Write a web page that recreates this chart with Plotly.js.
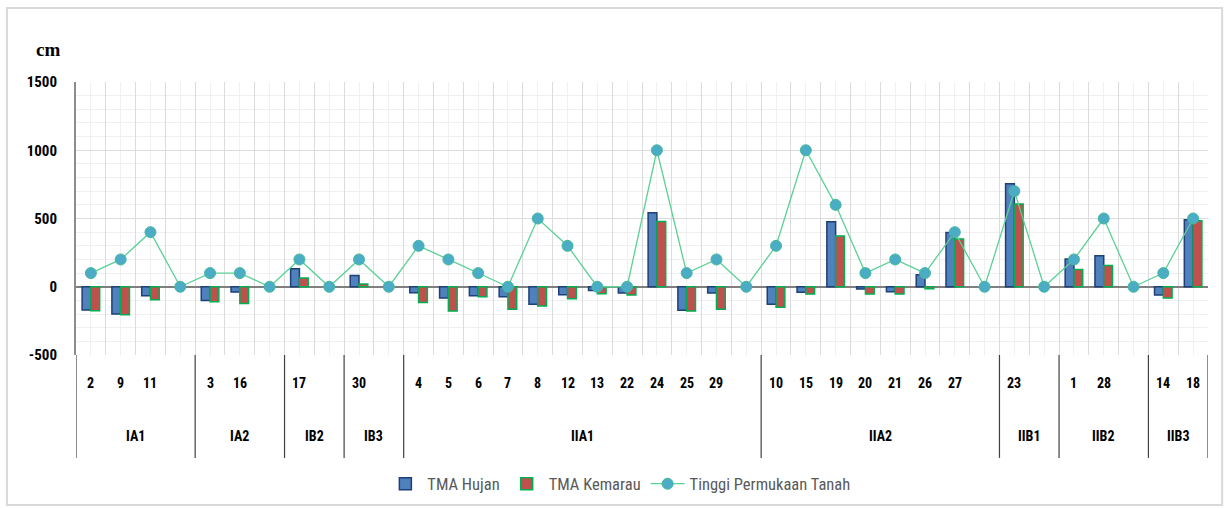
<!DOCTYPE html>
<html>
<head>
<meta charset="utf-8">
<script src="https://cdn.plot.ly/plotly-3.0.1.min.js"></script>
<style>
  html, body { margin: 0; padding: 0; background: #fff; }
  #chart { width: 1225px; height: 508px; }
</style>
</head>
<body>
<div id="chart"></div>
<script>
// ---- data ----
const groupNames = ['IA1','IA1','IA1','IA1','IA2','IA2','IA2','IB2','IB2','IB3','IB3',
  'IIA1','IIA1','IIA1','IIA1','IIA1','IIA1','IIA1','IIA1','IIA1','IIA1','IIA1','IIA1',
  'IIA2','IIA2','IIA2','IIA2','IIA2','IIA2','IIA2','IIA2',
  'IIB1','IIB1','IIB2','IIB2','IIB2','IIB3','IIB3'];
const wellLabels = ['2','9','11','','3','16','','17','','30','',
  '4','5','6','7','8','12','13','22','24','25','29','',
  '10','15','19','20','21','26','27','',
  '23','','1','28','','14','18'];
const tmaHujan = [-170,-200,-66,null,-100,-39,null,132,null,83,null,
  -44,-83,-66,-73,-129,-59,-27,-46,542,-173,-46,null,
  -129,-41,476,-17,-37,88,398,null,
  754,null,203,227,null,-61,490];
const tmaKemarau = [-176,-205,-95,null,-110,-122,null,64,null,20,null,
  -115,-178,-73,-164,-141,-88,-51,-61,478,-178,-164,null,
  -151,-54,371,-54,-54,-15,349,null,
  607,null,127,156,null,-83,483];
const tinggiTanah = [100,200,400,0,100,100,0,200,0,200,0,
  300,200,100,0,500,300,0,0,1000,100,200,0,
  300,1000,600,100,200,100,400,0,
  700,0,200,500,0,100,500];
const yTicks = [-500, 0, 500, 1000, 1500];

// ---- build ----
const idx = wellLabels.map((_, i) => i);
const labFont = {family: '"Liberation Sans Narrow", "Roboto Condensed", "Liberation Sans", Arial, sans-serif', size: 14, color: '#000'};

const traces = [
  {type: 'bar', name: 'TMA Hujan', x: idx, y: tmaHujan,
   marker: {color: '#4F81BD', line: {color: '#1F3F77', width: 1.5}}},
  {type: 'bar', name: 'TMA Kemarau', x: idx, y: tmaKemarau,
   marker: {color: '#C0504D', line: {color: '#00B050', width: 1.5}}},
  {type: 'scatter', mode: 'lines+markers', name: 'Tinggi Permukaan Tanah', x: idx, y: tinggiTanah,
   line: {color: '#5BD196', width: 1.3},
   marker: {color: '#4BACC6', size: 11, line: {color: '#46B99A', width: 1}}}
];

const annotations = [];
const shapes = [];
const yLab1 = -0.1026, yLab2 = -0.2967, yBoxBottom = -0.377;
idx.forEach(i => {
  if (wellLabels[i] !== '') {
    annotations.push({x: i, y: yLab1, xref: 'x', yref: 'paper', text: '<b>' + wellLabels[i] + '</b>',
      showarrow: false, font: labFont, xanchor: 'center', yanchor: 'middle'});
  }
});
// groups
let start = 0;
for (let i = 1; i <= groupNames.length; i++) {
  if (i === groupNames.length || groupNames[i] !== groupNames[i - 1]) {
    const mid = (start - 0.5 + i - 0.5) / 2;
    annotations.push({x: mid, y: yLab2, xref: 'x', yref: 'paper', text: '<b>' + groupNames[start] + '</b>',
      showarrow: false, font: labFont, xanchor: 'center', yanchor: 'middle'});
    shapes.push({type: 'line', xref: 'x', yref: 'paper', x0: i - 0.5, x1: i - 0.5, y0: 0, y1: yBoxBottom,
      line: {color: i === groupNames.length ? '#8c8c8c' : '#404040', width: i === groupNames.length ? 2 : 1.2}});
    start = i;
  }
}
// left box line
shapes.push({type: 'line', xref: 'x', yref: 'paper', x0: -0.5, x1: -0.5, y0: 0, y1: yBoxBottom,
  line: {color: '#8c8c8c', width: 2}});
// outer chart border
shapes.push({type: 'rect', xref: 'paper', yref: 'paper', x0: -0.0610, x1: 1.0125, y0: -0.549, y1: 1.271,
  line: {color: '#d9d9d9', width: 2}, layer: 'below'});

annotations.push({x: -0.012, y: 1.12, xref: 'paper', yref: 'paper', text: '<b>cm</b>', showarrow: false,
  font: {family: '"Liberation Serif", "Times New Roman", serif', size: 19, color: '#000'}, xanchor: 'right', yanchor: 'middle'});

const layout = {
  width: 1225, height: 508,
  margin: {l: 76, r: 17, t: 82, b: 153, autoexpand: false},
  paper_bgcolor: '#fff', plot_bgcolor: '#fff',
  barmode: 'group', bargap: 0.41, bargroupgap: 0,
  showlegend: true,
  legend: {orientation: 'h', x: 0.48, xanchor: 'center', y: -0.4725, yanchor: 'middle',
    font: {family: '"Liberation Sans Narrow", "Roboto Condensed", "Open Sans", sans-serif', size: 16.5, color: '#595959'},
    itemwidth: 34, traceorder: 'normal'},
  xaxis: {range: [-0.5, idx.length - 0.5], tickmode: 'linear', tick0: -0.5, dtick: 1,
    showticklabels: false, ticks: '', showgrid: true, gridcolor: '#dcdcdc', gridwidth: 1,
    minor: {tickmode: 'linear', tick0: 0, dtick: 1, showgrid: true, gridcolor: '#f0f0f0', gridwidth: 1},
    zeroline: false, showline: false, fixedrange: true},
  yaxis: {range: [-500, 1500], tickvals: yTicks, ticktext: yTicks.map(v => '<b>' + v + '</b>'),
    showgrid: true, gridcolor: '#dcdcdc', gridwidth: 1.3,
    minor: {dtick: 100, showgrid: true, gridcolor: '#f0f0f0', gridwidth: 1},
    zeroline: true, zerolinecolor: '#7f7f7f', zerolinewidth: 2,
    showline: true, linecolor: '#8c8c8c', linewidth: 2,
    ticks: '', ticklabelstandoff: 14,
    tickfont: {family: '"Liberation Sans Narrow", "Roboto Condensed", "Liberation Sans", Arial, sans-serif', size: 15, color: '#000'},
    fixedrange: true},
  annotations: annotations,
  shapes: shapes
};

Plotly.newPlot('chart', traces, layout, {displayModeBar: false, staticPlot: true});
</script>
</body>
</html>
